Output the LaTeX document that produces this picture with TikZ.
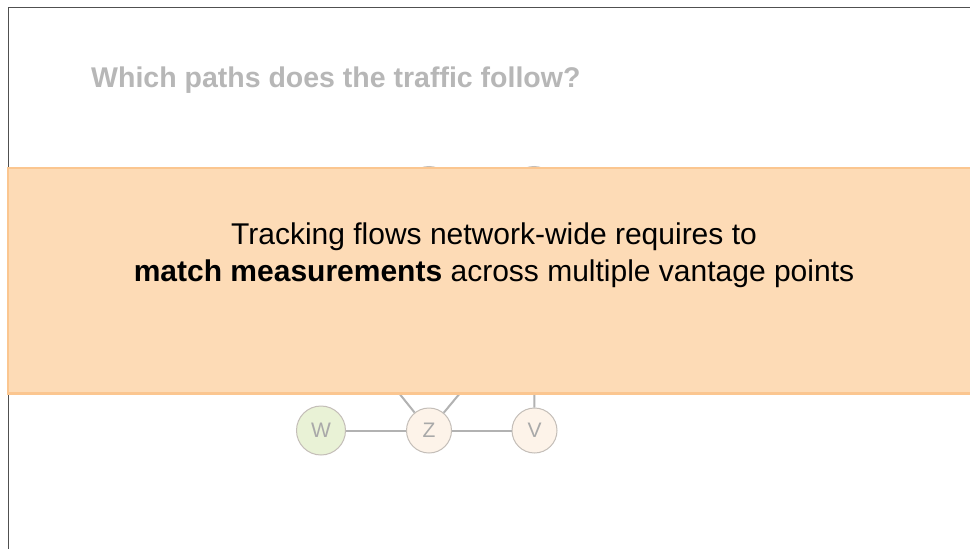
\documentclass[tikz,border=0pt]{standalone}
\usepackage{fontspec}
\setmainfont{Liberation Sans}
\begin{document}
\begin{tikzpicture}[x=1pt,y=-1pt,
  link/.style={draw=linkgray,line width=2pt},
  router/.style={circle,draw=nodeedge,line width=1pt,minimum size=45pt,inner sep=0pt,
    font=\fontsize{21}{21}\selectfont,text=lettergray},
  msgline/.style={anchor=base,inner sep=0pt,font=\fontsize{30}{30}\selectfont},
]
\definecolor{linkgray}{HTML}{B2B2B2}
\definecolor{nodeedge}{HTML}{C4BEB8}
\definecolor{lettergray}{HTML}{A9A9A9}
\definecolor{titlegray}{HTML}{B7B7B7}
\definecolor{greenfill}{HTML}{E9F2D6}
\definecolor{peachfill}{HTML}{FDF3E9}
\definecolor{bandfill}{HTML}{FDDBB6}
\definecolor{bandedge}{HTML}{FBC690}
\definecolor{framegray}{HTML}{505050}
\useasboundingbox (0,0) rectangle (970,549);
\fill[white] (0,0) rectangle (970,549);
% slide frame
\draw[framegray,line width=1pt] (8,549) -- (8,7.5) -- (970,7.5);
% title
\node[anchor=base west,text=titlegray,font=\fontsize{28.5}{28.5}\selectfont\bfseries,inner sep=0pt] (title) at (91,87) {Which paths does the traffic follow?};
% routers above (mostly covered)
\node[router,fill=white] (a) at (429,189) {};
\node[router,fill=white] (b) at (534,189) {};
\coordinate (za) at (370,357);
\coordinate (zb) at (490,357);
\coordinate (vb) at (534,357);
% routers below
\node[router,fill=greenfill,minimum size=49pt] (w) at (321,430.5) {W};
\node[router,fill=peachfill] (z) at (429,430.5) {Z};
\node[router,fill=peachfill] (v) at (534.5,430.5) {V};
\draw[link] (w) -- (z);
\draw[link] (z) -- (v);
\draw[link] (z) -- (za);
\draw[link] (z) -- (zb);
\draw[link] (v) -- (vb);
% message band
\filldraw[fill=bandfill,draw=bandedge,line width=2.5pt] (8,168) rectangle (975,393.5);
\node[msgline] (msg1) at (494,244) {Tracking flows network-wide requires to};
\node[msgline] (msg2) at (494,281) {\textbf{match measurements} across multiple vantage points};
\end{tikzpicture}
\end{document}
